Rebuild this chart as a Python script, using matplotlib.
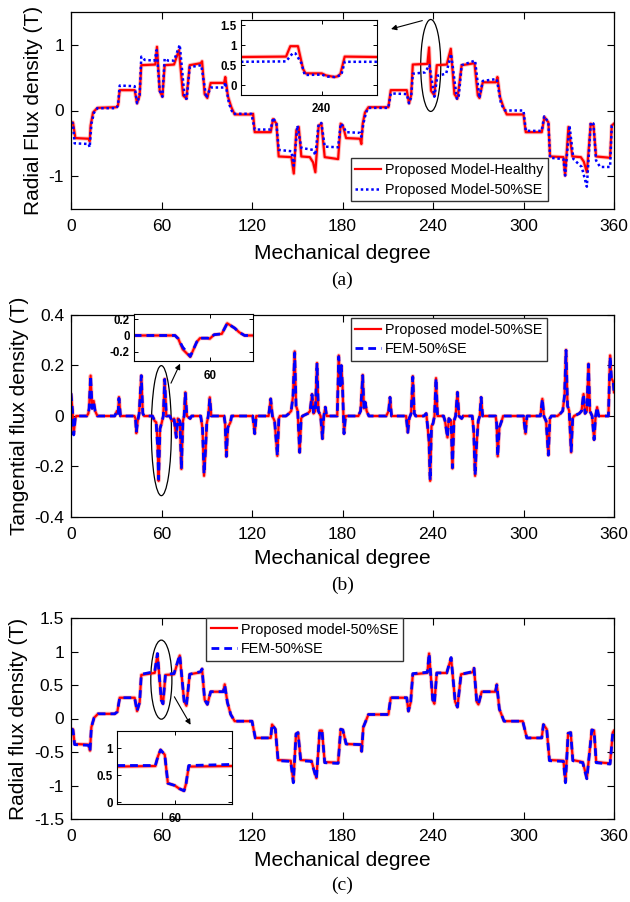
import numpy as np
import matplotlib.pyplot as plt
from matplotlib.patches import Ellipse

plt.rcParams['font.family'] = ['Liberation Sans', 'DejaVu Sans']
plt.rcParams['axes.unicode_minus'] = False

# ---------------- (a) radial flux density, healthy vs 50% SE ----------------
healthy_deg = [0.0, 1.3, 2.9, 11.7, 12.4, 13.0, 14.6, 17.5, 30.1, 31.2, 32.3, 42.2, 43.8, 45.5,
               46.6, 55.9, 57.0, 58.8, 60.6, 62.1, 68.3, 71.6, 74.3, 76.5, 78.7, 86.0, 86.9, 88.6,
               90.4, 92.6, 101.5, 102.3, 104.1, 106.3, 108.5, 119.6, 120.7, 121.8, 132.4, 134.0,
               136.2, 137.7, 146.1, 147.7, 149.4, 151.0, 152.7, 158.3, 160.5, 162.0, 164.2, 166.0,
               168.2, 177.1, 178.8, 180.2, 182.4, 191.6, 192.5, 193.4, 194.9, 197.2, 210.4, 212.0,
               222.6, 224.1, 225.5, 226.6, 236.3, 237.4, 238.7, 240.9, 242.5, 249.1, 251.8, 254.2,
               256.2, 259.0, 267.5, 269.7, 270.8, 273.0, 281.8, 282.7, 284.5, 286.7, 288.9, 300.0,
               301.5, 312.1, 313.9, 316.5, 317.6, 326.5, 327.6, 329.8, 332.4, 338.0, 340.0, 342.0,
               344.6, 346.4, 348.1, 357.4, 358.5, 360.0]
healthy_val = [-0.20, -0.18, -0.42, -0.43, -0.47, -0.23, -0.03, 0.04, 0.05, 0.08, 0.31, 0.31, 0.11, 0.23,
               0.69, 0.70, 0.97, 0.30, 0.21, 0.69, 0.70, 0.92, 0.23, 0.18, 0.69, 0.72, 0.75, 0.25,
               0.19, 0.42, 0.42, 0.51, 0.21, 0.05, -0.06, -0.06, -0.05, -0.33, -0.33, -0.13,
               -0.20, -0.70, -0.71, -0.96, -0.30, -0.25, -0.70, -0.71, -0.79, -0.94, -0.23, -0.20,
               -0.71, -0.74, -0.20, -0.23, -0.42, -0.43, -0.51, -0.20, -0.03, 0.05, 0.05, 0.31,
               0.31, 0.11, 0.23, 0.70, 0.71, 0.96, 0.30, 0.23, 0.69, 0.70, 0.94, 0.25,
               0.18, 0.69, 0.72, 0.23, 0.19, 0.43, 0.43, 0.51, 0.20, 0.05, -0.06, -0.06,
               -0.33, -0.33, -0.10, -0.18, -0.70, -0.71, -0.99, -0.25, -0.70, -0.71, -0.78, -0.94,
               -0.20, -0.23, -0.70, -0.72, -0.23, -0.20]

se_deg = [0.0, 1.3, 2.4, 11.7, 12.4, 13.5, 15.3, 17.5, 30.1, 31.2, 32.3, 42.2, 43.8, 45.5, 46.6,
          48.9, 55.5, 56.8, 58.8, 60.6, 62.1, 64.3, 68.3, 72.1, 75.4, 76.7, 78.7, 86.4, 89.7, 92.6,
          101.5, 102.3, 104.8, 107.4, 119.6, 121.8, 132.4, 134.0, 136.2, 137.7, 146.1, 147.7,
          150.1, 152.7, 160.5, 162.0, 164.2, 166.0, 168.2, 177.1, 178.8, 180.2, 182.4, 191.6,
          192.5, 193.8, 195.6, 197.2, 210.4, 212.0, 222.6, 224.1, 225.5, 226.6, 234.7, 237.6,
          240.9, 242.9, 248.7, 252.0, 255.8, 256.9, 259.0, 267.9, 270.8, 273.0, 282.3, 285.1,
          287.8, 300.0, 301.5, 312.1, 313.7, 316.5, 317.6, 326.5, 327.6, 330.5, 333.1, 338.6,
          340.4, 342.0, 344.6, 346.4, 348.1, 350.8, 357.4, 358.5, 360.0]
se_val = [-0.18, -0.20, -0.50, -0.51, -0.56, -0.20, -0.03, 0.035, 0.035, 0.08, 0.38, 0.37, 0.11, 0.23, 0.82,
          0.77, 0.76, 0.92, 0.30, 0.21, 0.79, 0.76, 0.76, 1.00, 0.18, 0.18, 0.66, 0.69, 0.19, 0.35,
          0.35, 0.43, 0.10, -0.05, -0.05, -0.29, -0.29, -0.11, -0.20, -0.60, -0.62, -0.84,
          -0.23, -0.57, -0.60, -0.68, -0.20, -0.19, -0.55, -0.56, -0.20, -0.23, -0.33, -0.34,
          -0.40, -0.20, -0.03, 0.04, 0.04, 0.26, 0.25, 0.11, 0.20, 0.56, 0.58, 0.69,
          0.21, 0.53, 0.56, 0.86, 0.18, 0.18, 0.69, 0.76, 0.19, 0.45, 0.48, 0.10,
          0.00, 0.00, -0.31, -0.31, -0.09, -0.18, -0.72, -0.74, -0.99, -0.23, -0.74, -0.86,
          -1.02, -1.16, -0.18, -0.20, -0.76, -0.86, -0.86, -0.23, -0.20]

# inset of (a), around 240 deg
ins_a_deg_h = [230.5, 235.8, 236.3, 237.2, 237.8, 238.1, 240.0, 240.5, 241.5, 241.9, 242.2, 242.7, 246.5]
ins_a_val_h = [0.70, 0.71, 0.97, 0.97, 0.40, 0.29, 0.29, 0.24, 0.20, 0.22, 0.28, 0.71, 0.70]
ins_a_deg_se = [230.5, 235.8, 236.6, 236.9, 237.6, 238.0, 240.0, 240.7, 241.5, 242.3, 242.7, 246.5]
ins_a_val_se = [0.58, 0.59, 0.80, 0.79, 0.55, 0.25, 0.26, 0.21, 0.20, 0.25, 0.58, 0.58]

# ---------------- (b) tangential flux density ----------------
tan_deg = [0.0, 1.0, 1.8, 2.8, 3.5, 10.5, 11.5, 12.0, 13.0, 14.0, 15.0, 16.0, 17.5, 29.0, 30.5, 31.2,
           31.8, 32.8, 42.0, 42.8, 43.3, 44.2, 45.2, 46.6, 47.6, 48.5, 54.0, 55.5, 56.5, 57.4, 58.1,
           59.0, 60.0, 61.2, 62.1, 63.2, 65.5, 67.0, 68.3, 69.8, 70.8, 72.2, 73.2, 74.2, 75.0, 75.8,
           76.8, 79.0, 80.0, 86.0, 87.2, 88.2, 89.2, 90.0, 91.0, 92.0, 93.0, 101.5, 102.2, 103.0,
           104.0, 105.7, 106.5, 120.5, 121.8, 122.8, 131.0, 132.4, 133.5, 135.0, 136.8, 137.8, 138.5,
           142.5, 144.5, 146.0, 147.2, 148.3, 149.2, 150.3, 151.6, 152.6, 153.5, 157.0, 158.5, 159.8,
           160.8, 162.0, 163.1, 164.0, 165.5, 166.7, 167.6, 168.6, 169.5, 176.5, 177.5, 178.5, 179.2,
           180.0, 181.0, 182.0, 190.5, 192.0, 193.4, 194.2, 195.0, 196.0, 197.5, 209.0, 210.6, 211.5,
           212.5, 222.2, 223.3, 224.2, 225.5, 226.6, 227.6, 228.5, 234.0, 235.5, 236.5, 237.3, 238.1,
           239.0, 240.0, 241.0, 242.0, 243.0, 247.0, 248.0, 249.6, 250.5, 252.0, 252.9, 253.9, 255.0,
           256.2, 257.2, 259.0, 260.0, 266.0, 267.0, 267.9, 268.8, 270.0, 271.0, 271.9, 272.9, 281.5,
           282.2, 282.9, 284.0, 285.5, 286.5, 300.0, 301.3, 302.3, 311.2, 312.5, 313.5, 315.0, 316.5,
           317.5, 318.5, 322.5, 324.5, 326.0, 327.2, 328.2, 329.2, 330.3, 331.6, 332.6, 333.5, 337.0,
           338.5, 339.8, 340.8, 342.0, 343.1, 344.0, 345.5, 346.8, 347.8, 348.8, 349.8, 356.3, 357.4,
           358.3, 359.5, 360.0]
tan_model = [0.087, 0.02, -0.07, -0.01, 0.0, 0.0, 0.01, 0.03, 0.16, 0.03, 0.06, 0.02, 0.0, 0.0, 0.02, 0.01,
             0.075, 0.0, 0.0, -0.01, -0.068, -0.02, 0.01, 0.16, 0.01, 0.0, 0.0, -0.02, -0.025, -0.10, -0.257,
             -0.05, -0.03, 0.0, 0.147, 0.0, 0.0, -0.02, -0.01, -0.085, -0.01, -0.02, -0.21, -0.02, 0.0, 0.094,
             0.0, -0.01, 0.0, 0.0, -0.05, -0.237, -0.14, -0.03, 0.0, 0.074, 0.0, 0.0, -0.03, -0.16,
             -0.045, -0.025, 0.0, 0.0, -0.07, 0.0, 0.0, 0.068, 0.0, -0.02, -0.158, -0.01, 0.0,
             0.0, 0.01, 0.02, 0.08, 0.256, 0.04, 0.02, -0.144, -0.01, 0.0, 0.01, 0.02, 0.087,
             0.01, 0.02, 0.21, 0.02, 0.0, -0.09, 0.0, 0.035, 0.0, 0.0, 0.24, 0.12, 0.20,
             0.12, -0.07, 0.0, 0.0, 0.02, 0.163, 0.03, 0.055, 0.02, 0.0, 0.0, 0.02, 0.074,
             0.0, 0.0, -0.065, -0.01, 0.01, 0.158, 0.01, 0.0, 0.0, 0.01, -0.045, -0.10, -0.257,
             -0.04, -0.03, 0.0, 0.15, 0.0, 0.0, -0.02, -0.085, -0.01, -0.02, -0.208, -0.02, 0.0,
             0.094, 0.0, -0.01, 0.0, 0.0, -0.06, -0.237, -0.12, -0.02, 0.0, 0.074, 0.0, 0.0,
             -0.03, -0.16, -0.045, -0.02, 0.0, 0.0, -0.07, 0.0, 0.0, 0.068, 0.0, -0.02, -0.155,
             -0.01, 0.0, 0.0, 0.01, 0.02, 0.08, 0.262, 0.04, 0.02, -0.144, -0.01, 0.0, 0.01,
             0.02, 0.087, 0.01, 0.02, 0.207, 0.02, 0.0, -0.094, 0.0, 0.035, 0.0, 0.0, 0.24,
             0.15, 0.135, 0.094]
tan_fem = [0.09, 0.02, -0.075, -0.01, 0.0, 0.0, 0.01, 0.03, 0.16, 0.03, 0.055, 0.02, 0.0, 0.0, 0.02, 0.01,
           0.07, 0.0, 0.0, -0.01, -0.065, -0.02, 0.01, 0.16, 0.01, 0.0, 0.0, -0.02, -0.03, -0.12, -0.25,
           -0.05, -0.03, 0.0, 0.145, 0.0, 0.0, -0.02, -0.01, -0.085, -0.01, -0.02, -0.21, -0.02, 0.0, 0.094,
           0.0, -0.01, 0.0, 0.0, -0.05, -0.23, -0.13, -0.03, 0.0, 0.07, 0.0, 0.0, -0.03, -0.16,
           -0.045, -0.025, 0.0, 0.0, -0.07, 0.0, 0.0, 0.068, 0.0, -0.02, -0.158, -0.01, 0.0,
           0.0, 0.01, 0.02, 0.08, 0.25, 0.04, 0.02, -0.144, -0.01, 0.0, 0.01, 0.02, 0.085,
           0.01, 0.02, 0.21, 0.02, 0.0, -0.09, 0.0, 0.035, 0.0, 0.0, 0.235, 0.12, 0.20,
           0.12, -0.07, 0.0, 0.0, 0.02, 0.16, 0.03, 0.055, 0.02, 0.0, 0.0, 0.02, 0.074,
           0.0, 0.0, -0.065, -0.01, 0.01, 0.155, 0.01, 0.0, 0.0, 0.01, -0.045, -0.09, -0.255,
           -0.04, -0.03, 0.0, 0.15, 0.0, 0.0, -0.02, -0.085, -0.01, -0.02, -0.205, -0.02, 0.0,
           0.094, 0.0, -0.01, 0.0, 0.0, -0.06, -0.235, -0.12, -0.02, 0.0, 0.074, 0.0, 0.0,
           -0.03, -0.16, -0.045, -0.02, 0.0, 0.0, -0.07, 0.0, 0.0, 0.068, 0.0, -0.02, -0.155,
           -0.01, 0.0, 0.0, 0.01, 0.02, 0.08, 0.26, 0.04, 0.02, -0.14, -0.01, 0.0, 0.01,
           0.02, 0.087, 0.01, 0.02, 0.205, 0.02, 0.0, -0.094, 0.0, 0.035, 0.0, 0.0, 0.235,
           0.15, 0.135, 0.094]

# inset of (b), around 60 deg
ins_b_deg = [53.0, 56.8, 57.1, 57.5, 58.2, 58.8, 59.1, 59.8, 60.0, 60.4, 61.1, 61.6, 62.3, 62.7, 63.2, 64.0]
ins_b_model = [0.0, 0.0, -0.04, -0.17, -0.265, -0.08, -0.033, -0.033, -0.04, 0.01, 0.02, 0.151, 0.09, 0.04, 0.0, 0.0]
ins_b_fem = [0.0, 0.0, -0.04, -0.143, -0.26, -0.08, -0.033, -0.033, -0.04, 0.01, 0.02, 0.151, 0.09, 0.04, 0.0, 0.0]

# ---------------- (c) radial flux density, 50% SE, model vs FEM ----------------
rc_deg = [0.0, 1.3, 2.4, 11.7, 12.6, 13.5, 15.3, 17.9, 29.0, 30.7, 32.3, 42.2, 43.8, 45.5, 46.6, 55.5,
          57.3, 59.9, 61.0, 62.6, 68.3, 72.1, 75.0, 76.5, 78.7, 86.0, 86.9, 88.6, 90.4, 92.6, 101.0,
          101.9, 103.7, 105.9, 108.5, 120.0, 122.2, 132.4, 133.3, 135.5, 137.3, 145.7, 147.4, 149.2,
          150.5, 152.3, 159.4, 162.7, 164.9, 166.4, 168.2, 177.1, 178.8, 180.2, 182.4, 192.1, 192.7,
          193.8, 197.2, 210.4, 212.0, 222.6, 223.7, 225.2, 226.6, 236.3, 237.4, 239.8, 240.9, 242.5,
          249.1, 252.0, 254.7, 256.2, 258.6, 266.3, 267.2, 269.0, 270.1, 272.3, 281.4, 282.3, 284.0,
          287.1, 299.5, 302.2, 312.1, 313.2, 315.4, 317.2, 326.5, 327.8, 329.6, 331.3, 332.7, 339.3,
          342.0, 345.3, 346.8, 348.2, 357.4, 359.2, 360.0]
rc_model = [-0.16, -0.16, -0.38, -0.39, -0.48, -0.13, 0.01, 0.07, 0.07, 0.10, 0.31, 0.31, 0.11, 0.24, 0.65, 0.68,
            0.96, 0.28, 0.22, 0.65, 0.66, 0.94, 0.26, 0.19, 0.66, 0.69, 0.74, 0.28, 0.21, 0.40, 0.40,
            0.51, 0.24, 0.06, -0.04, -0.04, -0.29, -0.29, -0.09, -0.16, -0.62, -0.63, -0.94, -0.23,
            -0.21, -0.62, -0.63, -0.89, -0.18, -0.18, -0.65, -0.66, -0.16, -0.17, -0.38, -0.39, -0.49,
            -0.13, 0.06, 0.06, 0.31, 0.31, 0.11, 0.24, 0.66, 0.68, 0.97, 0.28, 0.22, 0.68,
            0.68, 0.90, 0.25, 0.17, 0.66, 0.69, 0.75, 0.25, 0.21, 0.40, 0.40, 0.51, 0.14,
            -0.04, -0.04, -0.29, -0.29, -0.09, -0.16, -0.62, -0.63, -0.94, -0.22, -0.21, -0.62, -0.65,
            -0.89, -0.17, -0.18, -0.65, -0.67, -0.21, -0.18]
rc_fem = [-0.15, -0.17, -0.39, -0.40, -0.49, -0.13, 0.01, 0.07, 0.07, 0.10, 0.31, 0.31, 0.11, 0.24, 0.66, 0.70,
          0.97, 0.27, 0.22, 0.66, 0.67, 0.95, 0.26, 0.19, 0.66, 0.70, 0.74, 0.28, 0.21, 0.40, 0.40,
          0.50, 0.24, 0.06, -0.04, -0.04, -0.29, -0.29, -0.09, -0.16, -0.63, -0.64, -0.96, -0.23,
          -0.21, -0.63, -0.64, -0.90, -0.18, -0.18, -0.66, -0.67, -0.16, -0.17, -0.38, -0.39, -0.49,
          -0.13, 0.06, 0.06, 0.31, 0.31, 0.11, 0.24, 0.67, 0.69, 0.97, 0.28, 0.22, 0.68,
          0.68, 0.91, 0.25, 0.17, 0.66, 0.70, 0.75, 0.25, 0.21, 0.40, 0.40, 0.50, 0.14,
          -0.04, -0.04, -0.29, -0.29, -0.09, -0.16, -0.63, -0.64, -0.96, -0.22, -0.21, -0.63, -0.66,
          -0.90, -0.17, -0.18, -0.66, -0.68, -0.21, -0.18]

# inset of (c), around 60 deg
ins_c_deg = [49.0, 56.3, 56.8, 57.3, 58.1, 58.7, 60.0, 60.9, 61.8, 62.2, 62.7, 71.0]
ins_c_model = [0.66, 0.67, 0.85, 0.97, 0.88, 0.35, 0.31, 0.25, 0.21, 0.35, 0.66, 0.67]
ins_c_fem = [0.68, 0.68, 0.85, 0.97, 0.88, 0.35, 0.31, 0.25, 0.21, 0.35, 0.68, 0.70]

deg_ticks = [0, 60, 120, 180, 240, 300, 360]

# ---------------- figure ----------------
W, H = 630, 902
fig = plt.figure(figsize=(W / 100, H / 100), dpi=100)


def box(x0, y0, x1, y1):
    # pixel box (top-left origin) -> figure fraction rect
    return [x0 / W, 1 - y1 / H, (x1 - x0) / W, (y1 - y0) / H]


def fmt(v):
    return f'{v:g}'


def style_main(ax, yticks, ylim, ylabel, xlabel_pad):
    ax.set_xlim(0, 360)
    ax.set_ylim(*ylim)
    ax.set_xticks(deg_ticks, labels=[fmt(t) for t in deg_ticks])
    ax.set_yticks(yticks, labels=[fmt(t) for t in yticks])
    ax.tick_params(direction='in', length=5, width=0.8, top=True, right=True,
                   labelsize=12.5, pad=5)
    ax.tick_params(axis='x', pad=7.5)
    ax.set_xlabel('Mechanical degree', fontsize=15, labelpad=xlabel_pad)
    ax.set_ylabel(ylabel, fontsize=15, labelpad=4)
    for s in ax.spines.values():
        s.set_linewidth(0.9)


def style_inset(ax, xlim, xt, ylim, yticks):
    ax.set_xlim(*xlim)
    ax.set_ylim(*ylim)
    ax.set_xticks([xt], labels=[fmt(xt)])
    ax.set_yticks(yticks, labels=[fmt(t) for t in yticks])
    ax.tick_params(direction='in', length=3, width=0.7, top=True, right=True,
                   labelsize=8.3, pad=3)
    ax.tick_params(axis='x', pad=6)
    for lab in ax.get_xticklabels() + ax.get_yticklabels():
        lab.set_fontweight('bold')
    for s in ax.spines.values():
        s.set_linewidth(0.8)


def red_line(ax, x, y, **kw):
    # soft pink edge like the original rendering, then the line itself
    ax.plot(x, y, color=red, lw=3.0, alpha=0.25, solid_capstyle='round')
    return ax.plot(x, y, color=red, lw=1.6, **kw)


red = '#ff0000'
blue = '#0000ff'
dash = (0, (2.8, 1.8))
dots = (0, (1, 1.1))
leg_kw = dict(fontsize=10.4, fancybox=False, edgecolor='#333333', framealpha=1,
              handlelength=1.8, handletextpad=0.3, labelspacing=0.4, borderpad=0.3,
              borderaxespad=0)
arrow_kw = dict(arrowstyle='-|>', color='k', lw=0.8, mutation_scale=8)

# (a)
ax_a = fig.add_axes(box(71, 12, 614, 209))
red_line(ax_a, healthy_deg, healthy_val, label='Proposed Model-Healthy')
ax_a.plot(se_deg, se_val, color=blue, lw=1.8, ls=dots, label='Proposed Model-50%SE')
style_main(ax_a, [-1, 0, 1], (-1.5, 1.5), 'Radial Flux density (T)', 7)
ax_a.legend(loc='lower left', bbox_to_anchor=(0.515, 0.041), **leg_kw)
ax_a.add_patch(Ellipse((238.5, 0.686), 13.3, 1.40, fill=False, ec='k', lw=0.9))
ax_a.annotate('', xy=(210.4, 1.23), xytext=(234.7, 1.38), arrowprops=arrow_kw)

ins_a = fig.add_axes(box(241, 20, 377, 95))
red_line(ins_a, ins_a_deg_h, ins_a_val_h)
ins_a.plot(ins_a_deg_se, ins_a_val_se, color=blue, lw=1.8, ls=dots)
style_inset(ins_a, (230.5, 246.5), 240, (-0.25, 1.625), [0, 0.5, 1, 1.5])

# (b)
ax_b = fig.add_axes(box(71, 315, 614, 517))
red_line(ax_b, tan_deg, tan_model, label='Proposed model-50%SE')
ax_b.plot(tan_deg, tan_fem, color=blue, lw=2.0, ls=dash, label='FEM-50%SE')
style_main(ax_b, [-0.4, -0.2, 0, 0.2, 0.4], (-0.4, 0.4), 'Tangential flux density (T)', 4.5)
ax_b.legend(loc='upper left', bbox_to_anchor=(0.515, 0.984), **leg_kw)
ax_b.add_patch(Ellipse((59.9, -0.058), 13.3, 0.515, fill=False, ec='k', lw=0.9))
ax_b.annotate('', xy=(73.1, 0.217), xytext=(65.5, 0.12), arrowprops=arrow_kw)

ins_b = fig.add_axes(box(133.7, 313.7, 253.3, 361.3))
red_line(ins_b, ins_b_deg, ins_b_model)
ins_b.plot(ins_b_deg, ins_b_fem, color=blue, lw=2.0, ls=dash)
style_inset(ins_b, (53, 64), 60, (-0.32, 0.27), [-0.2, 0, 0.2])

# (c)
ax_c = fig.add_axes(box(71, 618, 614, 819))
red_line(ax_c, rc_deg, rc_model, label='Proposed model-50%SE')
ax_c.plot(rc_deg, rc_fem, color=blue, lw=2.0, ls=dash, label='FEM-50%SE')
style_main(ax_c, [-1.5, -1, -0.5, 0, 0.5, 1, 1.5], (-1.5, 1.5), 'Radial flux density (T)', 4.5)
ax_c.legend(loc='upper left', bbox_to_anchor=(0.249, 0.999), **leg_kw)
ax_c.add_patch(Ellipse((59.9, 0.58), 14, 1.18, fill=False, ec='k', lw=0.9))
ax_c.annotate('', xy=(80.2, -0.13), xytext=(67.6, 0.36), arrowprops=arrow_kw)

ins_c = fig.add_axes(box(117.3, 731, 232, 804.3))
red_line(ins_c, ins_c_deg, ins_c_model)
ins_c.plot(ins_c_deg, ins_c_fem, color=blue, lw=2.0, ls=dash)
style_inset(ins_c, (49, 71), 60, (-0.04, 1.32), [0, 0.5, 1])

for lab, y in [('(a)', 280), ('(b)', 585), ('(c)', 885)]:
    fig.text(342.5 / W, 1 - y / H, lab, ha='center', va='center', fontsize=14,
             family=['Liberation Serif', 'DejaVu Serif'])

fig.savefig('out.png', dpi=100)
